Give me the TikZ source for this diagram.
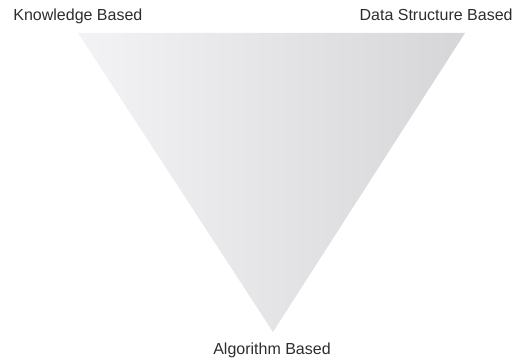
\documentclass[tikz,border=0pt]{standalone}
\usepackage{fontspec}
\setmainfont{Liberation Sans}
\usepackage{tikz}
\usetikzlibrary{positioning}
\definecolor{triLight} {RGB}{243, 243, 245}
\definecolor{triDark}  {RGB}{214, 214, 217}
\definecolor{labelGray}{RGB}{45,  45,  45}

\begin{document}
\begin{tikzpicture}[x=0.5pt,y=-0.5pt,
          lbl/.style={font=\fontsize{8}{9.6}\selectfont,text=labelGray,inner sep=0pt},
          tri/.style={left color=triLight,right color=triDark,draw=none},
        ]
        \useasboundingbox (0,0) rectangle (525,362);
        % corners of the triangle
        \coordinate (kb) at (78,33);
        \coordinate (ds) at (465,33);
        \coordinate (al) at (273,332);
        \shade[tri] (kb) -- (ds) -- (al) -- cycle;
        % labels
        \node[lbl,anchor=base west] (know) at (13,21){Knowledge Based};
        \node[lbl,anchor=base east] (data) at (513,21){Data Structure Based};
        \node[lbl,anchor=base]      (algo) at (272,354.5){Algorithm Based};
      \end{tikzpicture}
\end{document}
